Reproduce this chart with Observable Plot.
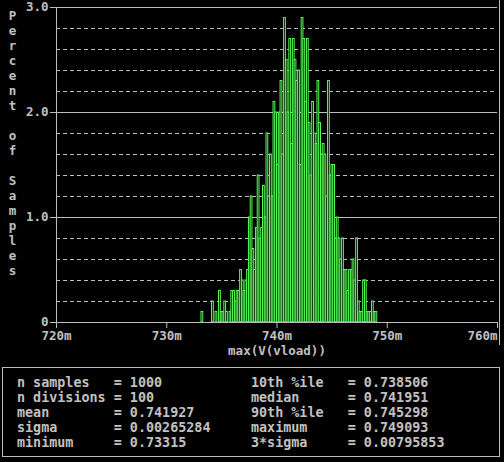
<!DOCTYPE html>
<html><head><meta charset="utf-8">
<script src="https://cdn.jsdelivr.net/npm/d3@7"></script>
<script src="https://cdn.jsdelivr.net/npm/@observablehq/plot@0.6"></script>
<style>
body{margin:0;background:#000;width:504px;height:462px;overflow:hidden;position:relative;font-family:"DejaVu Sans Mono",monospace;color:#c0c0c0}
#chart{position:absolute;left:0;top:0}
#rborder{position:absolute;left:499px;top:0;width:1px;height:345px;background:#bdbdbd}
#stats{position:absolute;left:2px;top:367px;width:498px;height:90px;border:1px solid #bdbdbd;box-sizing:border-box}
.col{position:absolute;top:7px;white-space:pre;font-size:13.4px;line-height:15px;font-weight:bold}
</style></head><body>
<div id="chart"></div><div id="rborder"></div><div id="stats"></div>
<script>
// histogram: 100 divisions between minimum and maximum, counts out of 1000 samples
const binMin = 0.73315;
const binMax = 0.749093;
const nDiv = 100;
const counts = [
  1,0,0,0,0,0,2,0,1,0,
  3,1,1,2,1,0,1,3,3,2,
  3,3,5,4,3,4,5,10,12,7,
  5,9,14,8,9,13,10,18,12,16,
  12,21,20,15,20,23,16,29,25,20,
  27,17,27,25,23,24,15,29,27,21,
  27,19,14,21,18,17,23,19,16,17,
  16,12,23,14,15,15,8,10,8,6,
  8,5,5,3,5,5,6,4,8,2,
  1,1,4,4,1,1,1,2,1,1
];
const nSamples = 1000;
const xTicks = [0.72, 0.73, 0.74, 0.75, 0.76];
const yMajor = [0, 1, 2, 3];
const yMinor = [0.2,0.4,0.6,0.8,1.2,1.4,1.6,1.8,2.2,2.4,2.6,2.8];
const yTitle = "Percent of Samples";
const xTitle = "max(V(vload))";
const statsLeftNames = ["n samples","n divisions","mean","sigma","minimum"];
const statsLeftValues = ["1000","100","0.741927","0.00265284","0.73315"];
const statsRightNames = ["10th %ile","median","90th %ile","maximum","3*sigma"];
const statsRightValues = ["0.738506","0.741951","0.745298","0.749093","0.00795853"];

const w = (binMax - binMin) / nDiv;
const bins = counts.map((c, i) => ({x1: binMin + i * w, x2: binMin + (i + 1) * w, pct: c / nSamples * 100}));
const fmtX = d => Math.round(d * 1000) + "m";
const fmtY = d => d === 0 ? "0" : d.toFixed(1);
const gray = "#bdbdbd";
const green = "#55ff55";

const chart = Plot.plot({
  width: 504, height: 362,
  marginLeft: 56, marginRight: 7, marginTop: 7, marginBottom: 40,
  style: {background: "#000", color: "#c0c0c0", fontFamily: "DejaVu Sans Mono", fontSize: "12.5px", fontWeight: "bold"},
  x: {domain: [0.72, 0.76]},
  y: {domain: [0, 3]},
  marks: [
    Plot.ruleY(yMinor, {stroke: gray, strokeDasharray: "4,3", strokeWidth: 1}),
    Plot.ruleY(yMajor.filter(d => d > 0), {stroke: gray, strokeWidth: 1}),
    Plot.rectY(bins, {x1: "x1", x2: "x2", y: "pct", fill: "#000", stroke: green, strokeWidth: 1}),
    Plot.ruleY([0], {stroke: gray}),
    Plot.ruleX([0.72], {y1: 0, y2: 3, stroke: gray}),
    Plot.axisX({ticks: xTicks, tickSize: 6, tickFormat: () => "", label: null, stroke: gray}),
    Plot.axisY({ticks: yMajor, tickSize: 6, tickFormat: () => "", label: null, stroke: gray}),
    Plot.text(xTicks.slice(0, -1), {x: d => d, frameAnchor: "bottom", dy: 17, text: fmtX, textAnchor: "middle"}),
    Plot.text(xTicks.slice(-1), {x: d => d, frameAnchor: "bottom", dy: 17, text: fmtX, textAnchor: "end"}),
    Plot.text([xTitle], {frameAnchor: "bottom", dy: 32, text: d => d, textAnchor: "middle"}),
    Plot.text(yMajor, {y: d => d, frameAnchor: "left", dx: -8, dy: -1, text: fmtY, textAnchor: "end"}),
    Plot.text([yTitle], {frameAnchor: "left", dx: -44, dy: -22, text: d => d.split("").join("\n"), lineHeight: 15 / 12.5, textAnchor: "middle", lineAnchor: "middle"})
  ]
});
document.getElementById("chart").appendChild(chart);

function pad(s, n) { return s + " ".repeat(Math.max(0, n - s.length)); }
const stats = document.getElementById("stats");
const left = document.createElement("div");
left.className = "col"; left.style.left = "14px";
left.textContent = statsLeftNames.map((n, i) => pad(n, 12) + "= " + statsLeftValues[i]).join("\n");
const right = document.createElement("div");
right.className = "col"; right.style.left = "248px";
right.textContent = statsRightNames.map((n, i) => pad(n, 12) + "= " + statsRightValues[i]).join("\n");
stats.appendChild(left); stats.appendChild(right);
</script>
</body></html>
